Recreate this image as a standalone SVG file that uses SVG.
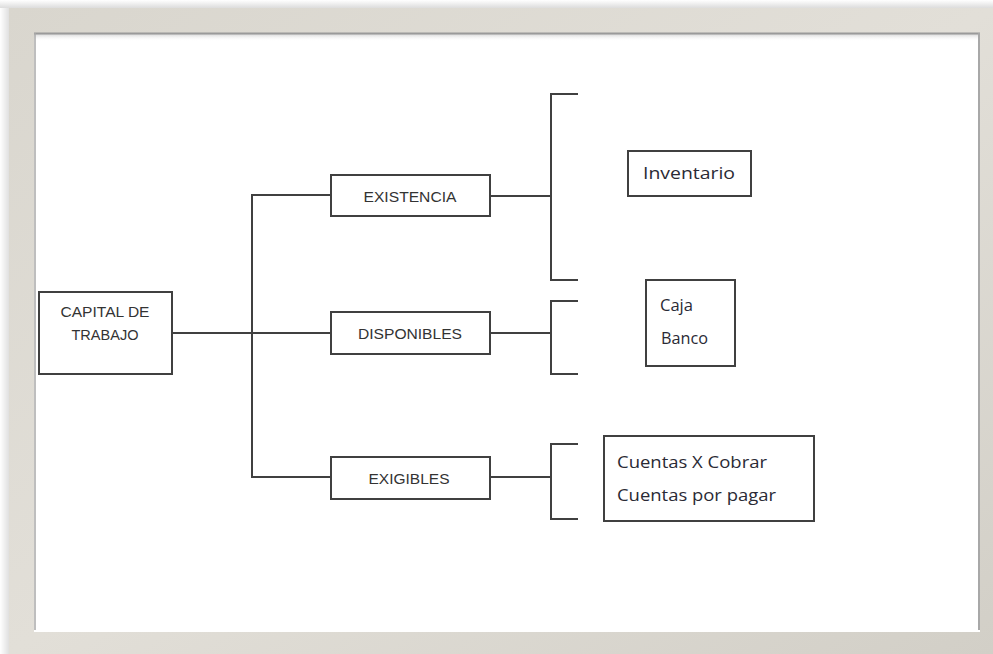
<svg xmlns="http://www.w3.org/2000/svg" width="993" height="654" viewBox="0 0 993 654">
<defs>
<linearGradient id="frameG" x1="0" y1="0" x2="1" y2="1">
<stop offset="0" stop-color="#d9d6ce"/>
<stop offset="0.5" stop-color="#e2dfd8"/>
<stop offset="1" stop-color="#d2cfc7"/>
</linearGradient>
<linearGradient id="leftSh" x1="0" y1="0" x2="1" y2="0">
<stop offset="0" stop-color="#ffffff"/>
<stop offset="1" stop-color="#dcdcdc"/>
</linearGradient>
<linearGradient id="topOut" x1="0" y1="0" x2="0" y2="1">
<stop offset="0" stop-color="#ffffff"/>
<stop offset="1" stop-color="#d8d8d8"/>
</linearGradient>
<linearGradient id="topSh" x1="0" y1="0" x2="0" y2="1">
<stop offset="0" stop-color="#c9c9c9"/>
<stop offset="1" stop-color="#ffffff" stop-opacity="0"/>
</linearGradient>
</defs>
<style>
.box{fill:#ffffff;stroke:#404040;stroke-width:2}
.ln{fill:none;stroke:#404040;stroke-width:2}
.lbl{font-family:"Liberation Sans",Arial,sans-serif;font-size:14px;fill:#333;text-anchor:middle}
.itm{font-family:"Open Sans","Noto Sans","Liberation Sans",sans-serif;font-size:17px;fill:#2a2a35}
</style>
<rect x="0" y="0" width="993" height="654" fill="#ffffff"/>
<rect x="0" y="0" width="993" height="9" fill="url(#topOut)"/>
<rect x="0" y="8" width="10" height="646" fill="url(#leftSh)"/>
<rect x="9" y="8" width="984" height="646" fill="url(#frameG)"/>
<rect x="34" y="33" width="946" height="599" fill="#ffffff"/>
<rect x="34" y="33" width="946" height="8" fill="url(#topSh)"/>
<line x1="34" y1="33.5" x2="980" y2="33.5" stroke="#9a9a9a" stroke-width="2"/>
<line x1="35" y1="33" x2="35" y2="630" stroke="#a8a8a8" stroke-width="1.5"/>
<line x1="979" y1="33" x2="979" y2="630" stroke="#a8a8a8" stroke-width="2"/>

<g id="connectors">
<path class="ln" d="M172 333 H331"/>
<path class="ln" d="M331 195 H252 V477 H331"/>
<path class="ln" d="M490 196 H551"/>
<path class="ln" d="M578 94 H551 V280 H578"/>
<path class="ln" d="M490 333 H551"/>
<path class="ln" d="M578 301 H551 V374 H578"/>
<path class="ln" d="M490 477 H551"/>
<path class="ln" d="M578 444 H551 V519 H578"/>
</g>

<g id="capital">
<rect class="box" x="39" y="292" width="133" height="82"/>
<text class="lbl" x="105" y="317" textLength="89" lengthAdjust="spacingAndGlyphs">CAPITAL DE</text>
<text class="lbl" x="105" y="340" textLength="67" lengthAdjust="spacingAndGlyphs">TRABAJO</text>
</g>
<g id="existencia">
<rect class="box" x="331" y="175" width="159" height="41"/>
<text class="lbl" x="410" y="202" textLength="93" lengthAdjust="spacingAndGlyphs">EXISTENCIA</text>
</g>
<g id="disponibles">
<rect class="box" x="331" y="312" width="159" height="42"/>
<text class="lbl" x="410" y="339" textLength="104" lengthAdjust="spacingAndGlyphs">DISPONIBLES</text>
</g>
<g id="exigibles">
<rect class="box" x="331" y="457" width="159" height="42"/>
<text class="lbl" x="409" y="484" textLength="81" lengthAdjust="spacingAndGlyphs">EXIGIBLES</text>
</g>
<g id="inventario">
<rect class="box" x="628" y="151" width="123" height="45"/>
<text class="itm" x="643" y="179" textLength="92" lengthAdjust="spacingAndGlyphs">Inventario</text>
</g>
<g id="cajabanco">
<rect class="box" x="646" y="280" width="89" height="86"/>
<text class="itm" x="660" y="311" textLength="33" lengthAdjust="spacingAndGlyphs">Caja</text>
<text class="itm" x="661" y="344" textLength="47" lengthAdjust="spacingAndGlyphs">Banco</text>
</g>
<g id="cuentas">
<rect class="box" x="604" y="436" width="210" height="85"/>
<text class="itm" x="617" y="468" textLength="150" lengthAdjust="spacingAndGlyphs">Cuentas X Cobrar</text>
<text class="itm" x="617" y="501" textLength="159" lengthAdjust="spacingAndGlyphs">Cuentas por pagar</text>
</g>
</svg>
